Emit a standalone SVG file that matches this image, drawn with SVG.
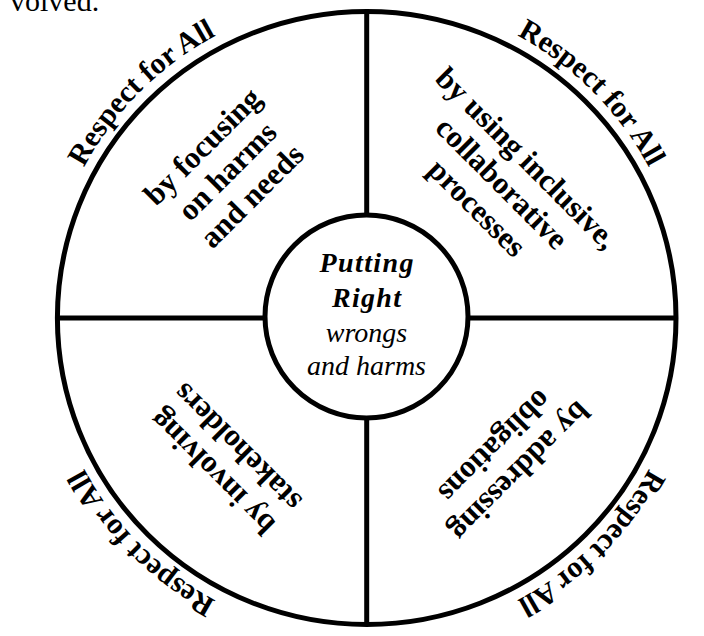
<svg xmlns="http://www.w3.org/2000/svg" xmlns:xlink="http://www.w3.org/1999/xlink" width="704" height="636" viewBox="0 0 704 636">
  <style>
    .ring { fill: none; stroke: #000; stroke-width: 5; }
    .hub { fill: #fff; stroke: #000; stroke-width: 5; }
    .div { stroke: #000; stroke-width: 5; fill: none; }
    .serif { font-family: "Liberation Serif", "Times New Roman", serif; fill: #000; }
    .arc { font-size: 30px; font-weight: bold; }
    .quad { font-size: 31px; font-weight: bold; text-anchor: middle; }
    .hubb { font-size: 28px; font-weight: bold; font-style: italic; text-anchor: middle; }
    .hubi { font-size: 28px; font-style: italic; text-anchor: middle; }
  </style>
  <defs>
    <path id="arcpath" d="M 46.5,318 A 320,320 0 1,1 686.5,318 A 320,320 0 1,1 46.5,318"/>
  </defs>
  <rect width="704" height="636" fill="#fff"/>
  <text class="serif" x="10" y="11" font-size="30">volved.</text>

  <g id="outer-ring">
    <ellipse class="ring" cx="366.7" cy="318" rx="309.3" ry="306.5"/>
  </g>

  <g id="dividers">
    <line class="div" x1="366.7" y1="11.5" x2="366.7" y2="624.5"/>
    <line class="div" x1="57.4" y1="318" x2="676" y2="318"/>
  </g>

  <g id="respect-labels" class="serif arc">
    <text text-anchor="middle"><textPath xlink:href="#arcpath" href="#arcpath" startOffset="12.5%">Respect for All</textPath></text>
    <text text-anchor="middle"><textPath xlink:href="#arcpath" href="#arcpath" startOffset="37.5%">Respect for All</textPath></text>
    <text text-anchor="middle"><textPath xlink:href="#arcpath" href="#arcpath" startOffset="62.5%">Respect for All</textPath></text>
    <text text-anchor="middle"><textPath xlink:href="#arcpath" href="#arcpath" startOffset="87.5%">Respect for All</textPath></text>
  </g>

  <g id="quadrant-tl" transform="translate(228,172) rotate(-45)">
    <text class="serif quad" x="0" y="-26">by focusing</text>
    <text class="serif quad" x="0" y="9">on harms</text>
    <text class="serif quad" x="0" y="44">and needs</text>
  </g>

  <g id="quadrant-tr" transform="translate(501,184) rotate(45)">
    <text class="serif quad" x="0" y="-26">by using inclusive,</text>
    <text class="serif quad" x="0" y="9">collaborative</text>
    <text class="serif quad" x="0" y="44">processes</text>
  </g>

  <g id="quadrant-br" transform="translate(506.5,458) rotate(135)">
    <text class="serif quad" x="0" y="-8.5">by addressing</text>
    <text class="serif quad" x="0" y="26.5">obligations</text>
  </g>

  <g id="quadrant-bl" transform="translate(225.5,459) rotate(225)">
    <text class="serif quad" x="0" y="-8.5">by involving</text>
    <text class="serif quad" x="0" y="26.5">stakeholders</text>
  </g>

  <g id="center">
    <circle class="hub" cx="366.5" cy="316.5" r="101.5"/>
    <text class="serif hubb" x="366.5" y="272" textLength="94">Putting</text>
    <text class="serif hubb" x="366.5" y="307" textLength="69">Right</text>
    <text class="serif hubi" x="366.5" y="342">wrongs</text>
    <text class="serif hubi" x="366.5" y="375">and harms</text>
  </g>
</svg>
